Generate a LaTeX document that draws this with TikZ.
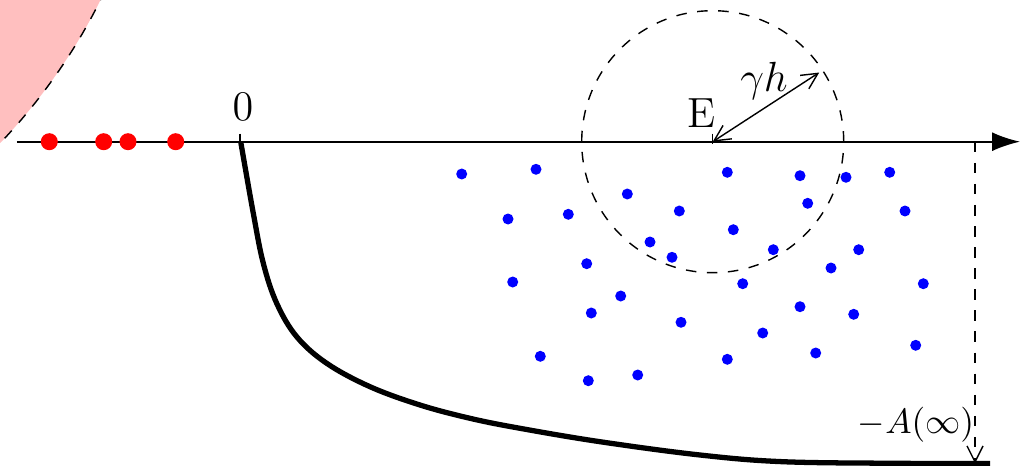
\documentclass[tikz,border=0pt]{standalone}
\usepackage{amsmath,amssymb}
\usetikzlibrary{arrows.meta}

\begin{document}
\begin{tikzpicture}[>={Straight Barb[length=1.6mm,width=1.6mm]},
  reddot/.style={fill=red},
  bluedot/.style={fill=blue},
  lbl/.style={font=\large,inner sep=0pt}]
  \useasboundingbox (-2.40,-3.233) rectangle (7.89,1.417);
  \begin{scope}
    \clip (-2.40,-3.233) rectangle (7.89,1.417);
    \draw[fill=red!25,dashed,thin] (-6.62,4.007) circle (5.83);
  \end{scope}
  % axis
  \coordinate (left) at (-2.23,0);
  \coordinate (right) at (7.80,0);
  \draw[semithick,-{Latex[length=2.8mm,width=1.9mm]}] (left)--(right);
  \draw[thin] (0,0.08)--(0,0);
  \node[lbl] (zero) at (0.03,0.347) {$0$};
  \foreach \x in {-1.907,-1.363,-1.12,-0.643}
    \fill[reddot] (\x,0) circle (0.085);
  % ball around E
  \coordinate (E) at (4.727,0);
  \coordinate (rim) at ([shift={(33:1.27)}]E);
  \draw[dashed,thin] (E) circle (1.31);
  \draw[dashed,thin] (4.727,0.08)--(4.727,-0.08);
  \draw[thin,<->] (E)--(rim);
  \node[lbl] (Elbl) at (4.617,0.287) {E};
  \node[lbl] (gh) at (5.24,0.607) {$\gamma h$};
  \foreach \x/\y in {2.217/-0.323,2.96/-0.276,4.873/-0.306,5.60/-0.34,6.06/-0.356,
      6.497/-0.306,3.873/-0.523,2.68/-0.773,3.283/-0.726,4.393/-0.693,5.677/-0.616,
      6.65/-0.693,4.933/-0.88,4.10/-1.003,4.32/-1.156,5.333/-1.08,6.187/-1.08,
      3.467/-1.22,5.91/-1.263,2.727/-1.403,5.027/-1.42,6.833/-1.42,3.807/-1.543,
      3.513/-1.713,5.60/-1.65,6.137/-1.726,4.41/-1.806,5.227/-1.913,3.003/-2.146,
      5.757/-2.113,6.757/-2.036,4.873/-2.176,3.977/-2.333,3.483/-2.39}
    \fill[bluedot] (\x,\y) circle (0.055);
  % the curve down to -A(infinity)
  \draw[line width=1.5pt] plot[smooth,tension=0.6] coordinates {(0.007,0) (0.133,-0.716)
    (0.233,-1.216) (0.367,-1.616) (0.567,-1.95) (0.867,-2.216) (1.30,-2.45)
    (1.80,-2.633) (2.30,-2.766) (2.80,-2.866) (3.60,-3.0) (4.60,-3.133)
    (5.43,-3.2) (6.60,-3.216) (7.50,-3.218)};
  \coordinate (top) at (7.35,0);
  \coordinate (bot) at (7.35,-3.218);
  \draw[thin,dashed,->] (top)--(bot);
  \node[lbl,font=\normalsize] (Ainf) at (6.76,-2.83) {$-A(\infty)$};
\end{tikzpicture}
\end{document}
